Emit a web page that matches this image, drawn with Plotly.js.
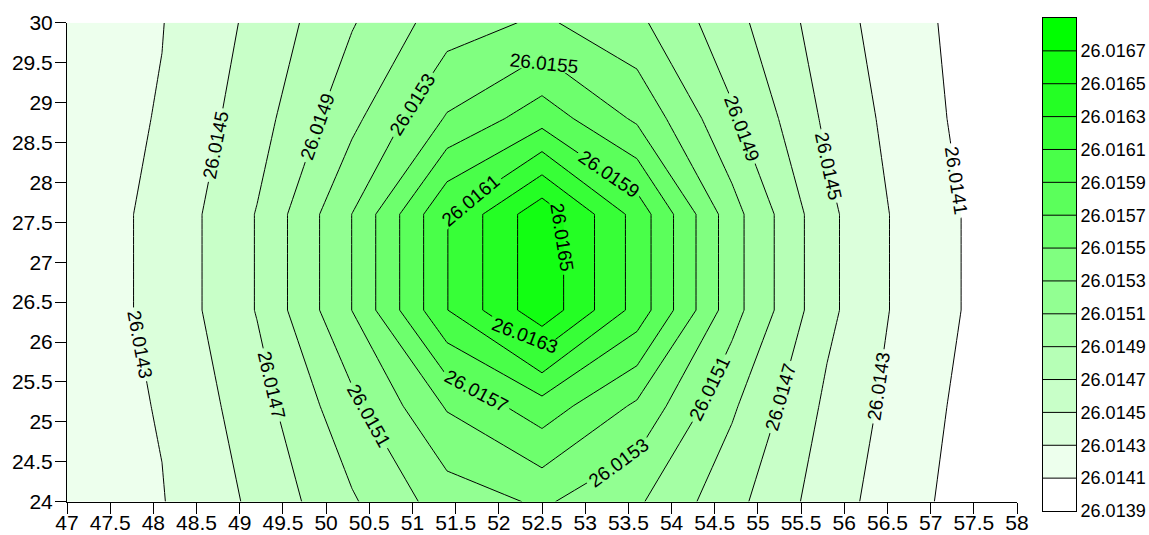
<!DOCTYPE html>
<html>
<head>
<meta charset="utf-8">
<script src="https://cdn.plot.ly/plotly-3.0.1.min.js"></script>
<style>
  html, body { margin: 0; padding: 0; background: #ffffff; }
  #chart { width: 1149px; height: 535px; }
</style>
</head>
<body>
<div id="chart"></div>
<script>
// Grid nodes of the sampled surface
const xNodes = [47, 48.1, 49.2, 50.3, 51.4, 52.5, 53.6, 54.7, 55.8, 56.9, 58];
const yNodes = [24, 25.2, 26.4, 27.6, 28.8, 30];

// Surface values, one row per y node (bottom to top)
const zRow24   = [26.01420, 26.014291, 26.014543, 26.014877, 26.015196, 26.015328, 26.015130, 26.014765, 26.014397, 26.014115, 26.01400];
const zRow25_2 = [26.01420, 26.014313, 26.014614, 26.015045, 26.015520, 26.015815, 26.015465, 26.014930, 26.014460, 26.014150, 26.01396];
const zRow26_4 = [26.01419, 26.014347, 26.014710, 26.015302, 26.016095, 26.016640, 26.016025, 26.015180, 26.014550, 26.014170, 26.01400];
const zRow27_6 = [26.01419, 26.014347, 26.014710, 26.015302, 26.016095, 26.016640, 26.016025, 26.015180, 26.014550, 26.014170, 26.01400];
const zRow28_8 = [26.01420, 26.014313, 26.014614, 26.015045, 26.015520, 26.015815, 26.015465, 26.014930, 26.014460, 26.014150, 26.01396];
const zRow30   = [26.01420, 26.014294, 26.014550, 26.014885, 26.015205, 26.015333, 26.015145, 26.014768, 26.014396, 26.014120, 26.01400];

// Contour levels and colour scale labels
const levelStart = 26.0141;
const levelEnd = 26.0167;
const levelStep = 0.0002;
const scaleTicks = [26.0139, 26.0141, 26.0143, 26.0145, 26.0147, 26.0149, 26.0151,
                    26.0153, 26.0155, 26.0157, 26.0159, 26.0161, 26.0163, 26.0165, 26.0167];

const FONT = 'Liberation Sans, Arial, Helvetica, sans-serif';
const colorscale = [[0, '#ffffff'], [1, '#00ff00']];
const contourSpec = (labels) => ({
  start: levelStart,
  end: levelEnd,
  size: levelStep,
  coloring: 'fill',
  showlines: true,
  showlabels: labels,
  labelformat: '.4f',
  labelfont: { family: FONT, size: 19, color: '#000000' }
});

// Main surface
const surface = {
  type: 'contour',
  x: xNodes,
  y: yNodes,
  z: [zRow24, zRow25_2, zRow26_4, zRow27_6, zRow28_8, zRow30],
  autocontour: false,
  contours: contourSpec(true),
  line: { color: '#000000', width: 1, smoothing: 0 },
  colorscale: colorscale,
  showscale: false,
  hoverinfo: 'skip'
};

// Colour key: a vertical ramp through the full level range, drawn with the same levels
const keyLow = scaleTicks[0];
const keyHigh = levelEnd + levelStep;
const colorKey = {
  type: 'contour',
  xaxis: 'x3',
  yaxis: 'y3',
  x: [0, 1],
  y: [keyLow, keyHigh],
  z: [[keyLow, keyLow], [keyHigh, keyHigh]],
  autocontour: false,
  contours: contourSpec(false),
  line: { color: '#000000', width: 1, smoothing: 0 },
  colorscale: colorscale,
  showscale: false,
  hoverinfo: 'skip'
};

const axisCommon = {
  showgrid: false,
  zeroline: false,
  showline: true,
  linecolor: '#000000',
  linewidth: 1,
  ticks: 'outside',
  ticklen: 11,
  tickwidth: 1,
  tickcolor: '#000000',
  tickfont: { family: FONT, size: 21, color: '#000000' }
};

const xDomain = [0, 0.94153];
const yDomain = [0.01886, 0.99047];

const layout = {
  width: 1149,
  height: 535,
  margin: { l: 67, r: 73, t: 18, b: 24, pad: 0 },
  paper_bgcolor: '#ffffff',
  plot_bgcolor: '#ffffff',
  showlegend: false,
  font: { family: FONT, size: 20, color: '#000000' },
  xaxis: Object.assign({}, axisCommon, {
    domain: xDomain, anchor: 'y',
    range: [47, 58], tickmode: 'linear', tick0: 47, dtick: 0.5, side: 'bottom',
    ticklabelstandoff: -9
  }),
  yaxis: Object.assign({}, axisCommon, {
    domain: yDomain, anchor: 'x',
    range: [24, 30], tickmode: 'linear', tick0: 24, dtick: 0.5, side: 'left',
    ticklabelstandoff: -2
  }),
  xaxis2: Object.assign({}, axisCommon, {
    domain: xDomain, range: [47, 58], tickmode: 'linear', tick0: 47, dtick: 1, side: 'top',
    overlaying: 'x', anchor: 'y', showticklabels: false
  }),
  yaxis2: Object.assign({}, axisCommon, {
    domain: yDomain, range: [24, 30], tickmode: 'linear', tick0: 24, dtick: 1, side: 'right',
    overlaying: 'y', anchor: 'x', showticklabels: false
  }),
  xaxis3: {
    domain: [0.9673, 1], anchor: 'y3', range: [0, 1],
    showgrid: false, zeroline: false, showticklabels: false, ticks: '',
    showline: true, mirror: true, linecolor: '#000000', linewidth: 1
  },
  yaxis3: {
    domain: [0, 1], anchor: 'x3', side: 'right', range: [keyLow, keyHigh],
    showgrid: false, zeroline: false, ticks: '',
    tickmode: 'array', tickvals: scaleTicks, ticktext: scaleTicks.map(v => v.toFixed(4)),
    tickfont: { family: FONT, size: 18, color: '#000000' },
    showline: true, mirror: true, linecolor: '#000000', linewidth: 1
  }
};

Plotly.newPlot('chart', [surface, colorKey], layout, { displayModeBar: false, staticPlot: true });
</script>
</body>
</html>
